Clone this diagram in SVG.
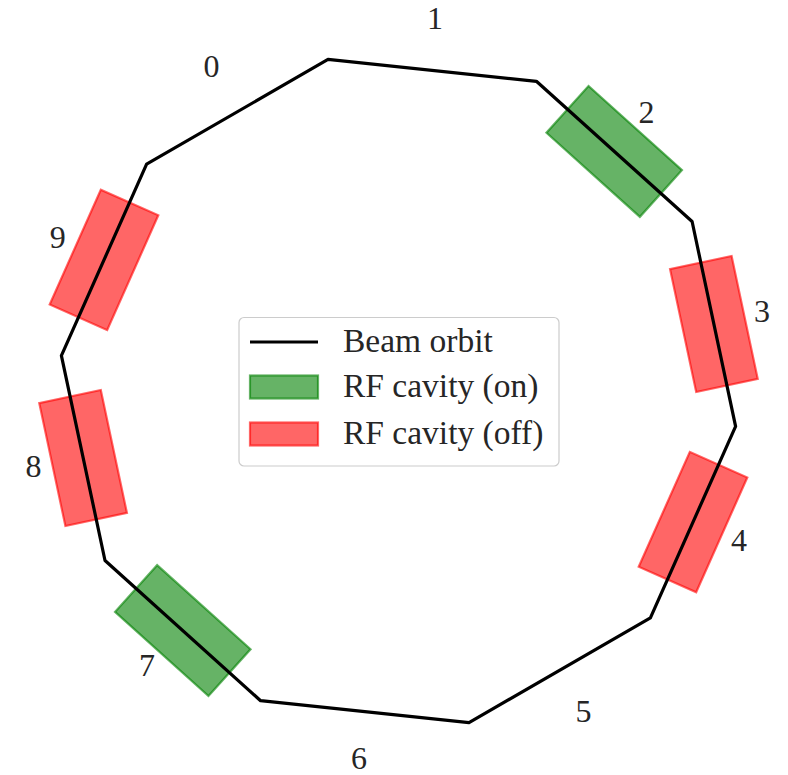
<svg xmlns="http://www.w3.org/2000/svg" width="788" height="775" viewBox="0 0 788 775">
<style>
.lbl{font-family:'Liberation Serif','Times New Roman',Times,'DejaVu Serif',serif;font-size:32px;fill:#262626;text-anchor:middle}
.leg{font-family:'Liberation Serif','Times New Roman',Times,'DejaVu Serif',serif;font-size:33.5px;fill:#262626}
.on{fill:#008000;fill-opacity:0.6;stroke:#008000;stroke-opacity:0.6;stroke-width:2.2}
.off{fill:#ff0000;fill-opacity:0.6;stroke:#ff0000;stroke-opacity:0.6;stroke-width:2.2}
.orbit{fill:none;stroke:#000;stroke-width:3.2;stroke-linejoin:round;stroke-linecap:square}
</style>
<defs>
<rect id="cav" x="-62.85" y="-31.45" width="125.7" height="62.9"/>
</defs>
<rect width="788" height="775" fill="#fff"/>
<g id="cavities">
<g id="cavity2"><use href="#cav" class="on" transform="translate(614.2,151.4) rotate(42)"/></g>
<g id="cavity3"><use href="#cav" class="off" transform="translate(713.9,324.0) rotate(78)"/></g>
<g id="cavity4"><use href="#cav" class="off" transform="translate(693.0,522.1) rotate(114)"/></g>
<g id="cavity7"><use href="#cav" class="on" transform="translate(182.8,630.6) rotate(222)"/></g>
<g id="cavity8"><use href="#cav" class="off" transform="translate(83.1,458.0) rotate(258)"/></g>
<g id="cavity9"><use href="#cav" class="off" transform="translate(104.0,259.9) rotate(294)"/></g>
</g>
<g id="orbit">
<polygon class="orbit" points="328.0,59.4 536.4,81.3 692.1,221.5 735.6,426.4 650.4,617.8 469.0,722.6 260.6,700.7 105.0,560.5 61.4,355.6 146.6,164.2"/>
</g>
<g id="labels">
<text class="lbl" x="211.5" y="77">0</text>
<text class="lbl" x="435" y="29">1</text>
<text class="lbl" x="646.4" y="123">2</text>
<text class="lbl" x="762" y="322">3</text>
<text class="lbl" x="739" y="551">4</text>
<text class="lbl" x="583.5" y="721.5">5</text>
<text class="lbl" x="359" y="769">6</text>
<text class="lbl" x="147" y="676">7</text>
<text class="lbl" x="33.6" y="477">8</text>
<text class="lbl" x="57.7" y="248">9</text>
</g>
<g id="legend">
<rect x="239" y="317.5" width="320" height="148.5" rx="5" fill="#fff" fill-opacity="0.8" stroke="#cccccc" stroke-width="1.2"/>
<line x1="250" y1="342" x2="318" y2="342" stroke="#000" stroke-width="3.2"/>
<rect x="250" y="375.5" width="68" height="23" class="on"/>
<rect x="250" y="422.5" width="68" height="23" class="off"/>
<text class="leg" x="343" y="352">Beam orbit</text>
<text class="leg" x="343" y="397">RF cavity (on)</text>
<text class="leg" x="343" y="444">RF cavity (off)</text>
</g>
</svg>
